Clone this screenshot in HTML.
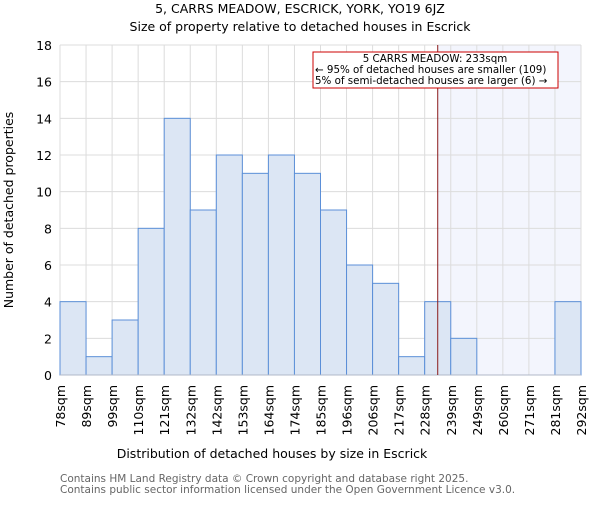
<!DOCTYPE html>
<html><head><meta charset="utf-8"><style>
body{margin:0;background:#fff}
text{font-family:"DejaVu Sans","Liberation Sans",sans-serif}
</style></head><body>
<svg id="c" width="600" height="500" xmlns="http://www.w3.org/2000/svg">
<text x="300" y="13" text-anchor="middle" font-size="12.5">5, CARRS MEADOW, ESCRICK, YORK, YO19 6JZ</text>
<text x="300" y="31" text-anchor="middle" font-size="12.5">Size of property relative to detached houses in Escrick</text>
<text x="272" y="458" text-anchor="middle" font-size="12.5">Distribution of detached houses by size in Escrick</text>
<text transform="translate(13,210) rotate(-90)" text-anchor="middle" font-size="12.5">Number of detached properties</text>
<text x="60" y="482" font-size="10.5" fill="#666">Contains HM Land Registry data © Crown copyright and database right 2025.</text>
<text x="60" y="493" font-size="10.5" fill="#666">Contains public sector information licensed under the Open Government Licence v3.0.</text>
</svg>
<script>
const binLabels=["78sqm","89sqm","99sqm","110sqm","121sqm","132sqm","142sqm","153sqm","164sqm","174sqm","185sqm","196sqm","206sqm","217sqm","228sqm","239sqm","249sqm","260sqm","271sqm","281sqm","292sqm"];
const counts=[4,1,3,8,14,9,12,11,12,11,9,6,5,1,4,2,0,0,0,4];
const yTicks=[0,2,4,6,8,10,12,14,16,18];
const subjectBin=14.5;
const NS="http://www.w3.org/2000/svg";
const svg=document.getElementById('c');
const L=60,R=581,T=45,B=375,yMax=18;
const n=counts.length;
const xs=i=>L+(R-L)*i/n;
const ys=v=>B-(B-T)*v/yMax;
function mk(tag,attrs,parent){const e=document.createElementNS(NS,tag);for(const k in attrs)e.setAttribute(k,attrs[k]);(parent||svg).appendChild(e);return e;}
const g=mk('g',{});


const lx=xs(subjectBin);
const sh=mk('rect',{x:lx,y:T,width:R-lx,height:B-T,fill:'#f3f5fd'},g);


yTicks.forEach(v=>{
 const l=mk('line',{x1:L,x2:R,y1:ys(v),y2:ys(v),stroke:'#dcdcdc','stroke-width':1},g);
 
 
 const t=mk('text',{x:L-8,y:ys(v)+5,'text-anchor':'end','font-size':12.5},g);
 t.textContent=v;
 
 
});
binLabels.forEach((s,i)=>{
 const l=mk('line',{x1:xs(i),x2:xs(i),y1:T,y2:B,stroke:'#dcdcdc','stroke-width':1},g);
 
 
 const t=mk('text',{transform:`translate(${xs(i)+5},385) rotate(-90)`,'text-anchor':'end','font-size':12.5},g);
 t.textContent=s;
 
 
});
counts.forEach((v,i)=>{
 if(v<=0)return;
 const r=mk('rect',{x:xs(i),y:ys(v),width:xs(i+1)-xs(i),height:B-ys(v),fill:'#dce6f4',stroke:'#5b8fd8','stroke-width':1},g);
 
 
});
const ax=mk('line',{x1:L,x2:R,y1:B,y2:B,stroke:'#b0b8c8','stroke-width':1},g);


const vl=mk('line',{x1:lx,x2:lx,y1:T,y2:B,stroke:'#8b1a1a','stroke-width':1},g);


const box=mk('rect',{x:313,y:52,width:245,height:36,fill:'#fff',stroke:'#cc0000','stroke-width':1},g);


["5 CARRS MEADOW: 233sqm","← 95% of detached houses are smaller (109)","5% of semi-detached houses are larger (6) →"].forEach((s,k)=>{
 const t=mk('text',{x:k==0?435:315,y:62+k*11,'text-anchor':k==0?'middle':'start','font-size':10.3},g);
 t.textContent=s;
 
 
});
</script>
</body></html>
